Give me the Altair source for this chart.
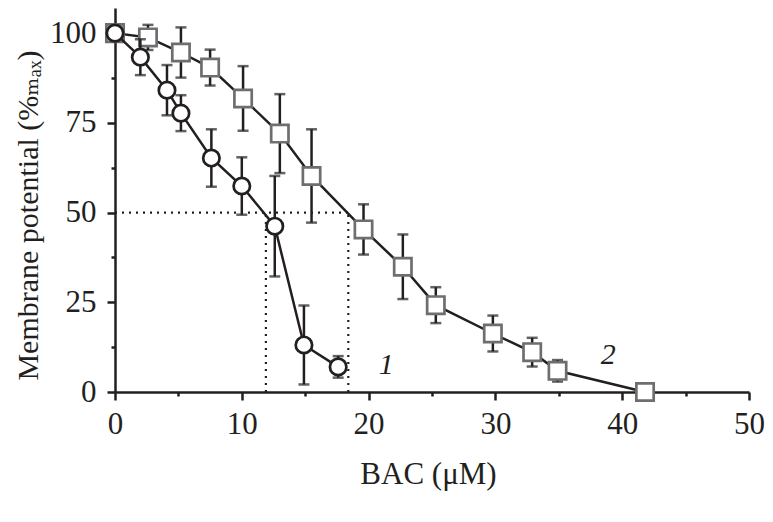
import altair as alt
import pandas as pd

# Series 1 (circles)
c_x = [0, 2.0, 4.1, 5.2, 7.6, 10.0, 12.6, 14.9, 17.6]
c_y = [100, 93.3, 84.1, 77.7, 65.2, 57.4, 46.2, 13.1, 7.0]
c_err = [1.5, 5, 7, 5, 8, 8, 14, 11, 3]

# Series 2 (squares)
s_x = [0, 2.6, 5.2, 7.5, 10.1, 13.0, 15.5, 19.6, 22.7, 25.3, 29.8, 32.9, 34.9, 41.8]
s_y = [100, 98.8, 94.6, 90.4, 81.8, 72.0, 60.2, 45.3, 34.9, 24.2, 16.3, 11.1, 5.9, 0]
s_err = [1.5, 3.5, 7, 5, 9, 11, 13, 7, 9, 5, 5, 4, 3, 2]

# dotted guide lines (half-maximum read-off)
guide_x = [0, 11.9, 18.4]
guide_x2 = [18.4, 11.9, 18.4]
guide_y = [50, 0, 0]
guide_y2 = [50, 50, 50]

# curve labels
lab_x = [21.4, 38.9]
lab_y = [7.5, 10.3]
lab_t = ["1", "2"]

x_ticks = [0, 5, 10, 15, 20, 25, 30, 35, 40, 45, 50]
y_ticks = [0, 12.5, 25, 37.5, 50, 62.5, 75, 87.5, 100]

INK = "#231f20"
GRAY = "#6d6e71"
FONT = "'Liberation Serif', 'DejaVu Serif', serif"


def mk(x, y, err):
    return pd.DataFrame({"x": x, "y": y,
                         "lo": [a - e for a, e in zip(y, err)],
                         "hi": [a + e for a, e in zip(y, err)]})


dc = mk(c_x, c_y, c_err)
ds = mk(s_x, s_y, s_err)
dg = pd.DataFrame({"x": guide_x, "x2": guide_x2, "y": guide_y, "y2": guide_y2})
dl = pd.DataFrame({"x": lab_x, "y": lab_y, "t": lab_t})

x_axis = alt.Axis(values=x_ticks,
                  labelExpr="datum.value % 10 === 0 ? datum.label : ''",
                  tickSize={"condition": {"test": "datum.value % 10 === 0", "value": 8}, "value": 4},
                  labelPadding=9, labelFlush=False, labelOverlap=False,
                  titleX=313, titleY=91, titleBaseline="alphabetic",
                  titleAlign="center", grid=False)
y_axis = alt.Axis(values=y_ticks,
                  labelExpr="datum.value % 25 === 0 ? datum.label : ''",
                  tickSize={"condition": {"test": "datum.value % 25 === 0", "value": 8}, "value": 4},
                  labelPadding=11, labelFlush=False, labelOverlap=False,
                  titleX=-78, titleY=207, titleBaseline="alphabetic", titleFontSize=30,
                  titleAlign="center", titleAngle=270, grid=False)

X = alt.X("x:Q", scale=alt.Scale(domain=[0, 50], nice=False, zero=False),
          axis=x_axis, title="BAC (μM)")


def Y(field):
    return alt.Y(f"{field}:Q", scale=alt.Scale(domain=[0, 107], nice=False, zero=False),
                 axis=y_axis, title="Membrane potential (%ₘₐₓ)")


def series(df, shape, size, stroke):
    line = alt.Chart(df).mark_line(color=INK, strokeWidth=2.5).encode(x=X, y=Y("y"))
    bars = alt.Chart(df).mark_rule(color=INK, strokeWidth=2.5).encode(x=X, y=Y("lo"), y2="hi")
    cap_lo = alt.Chart(df).mark_tick(color=INK, thickness=2.5, size=11, orient="horizontal").encode(x=X, y=Y("lo"))
    cap_hi = alt.Chart(df).mark_tick(color=INK, thickness=2.5, size=11, orient="horizontal").encode(x=X, y=Y("hi"))
    pts = alt.Chart(df).mark_point(shape=shape, size=size, filled=False, fill="white",
                                   fillOpacity=1, opacity=1, stroke=stroke,
                                   strokeWidth=2.7).encode(x=X, y=Y("y"))
    return [line, bars, cap_lo, cap_hi, pts]


guides = alt.Chart(dg).mark_rule(color=INK, strokeWidth=2.2, strokeDash=[2, 5]).encode(
    x=X, x2="x2", y=Y("y"), y2="y2")

labels = alt.Chart(dl).mark_text(font=FONT, fontSize=30, fontStyle="italic", color=INK).encode(
    x=X, y=Y("y"), text="t:N")

layers = [guides] + series(ds, "square", 300, GRAY) + series(dc, "circle", 270, INK) + [labels]

chart = alt.layer(*layers).properties(
    width=634, height=384,
    autosize=alt.AutoSizeParams(type="none"),
    padding={"left": 107, "top": 0, "right": 16, "bottom": 122},
).configure_view(strokeWidth=0).configure_axis(
    domainColor=INK, domainWidth=2.5, tickColor=INK, tickWidth=2.5,
    labelFont=FONT, labelFontSize=31, labelColor=INK,
    titleFont=FONT, titleFontSize=31, titleColor=INK, titleFontWeight="normal",
)

chart.save("out.html", embed_options={"renderer": "svg", "actions": False})
